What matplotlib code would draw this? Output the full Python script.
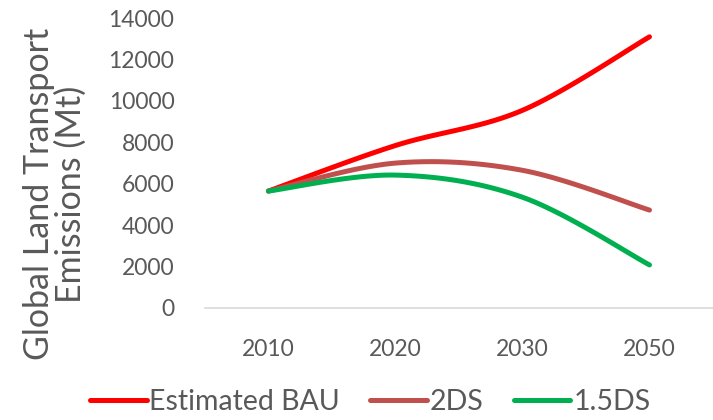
import numpy as np
import matplotlib.pyplot as plt

years = ['2010', '2020', '2030', '2050']
bau = [5650, 7850, 9550, 13100]
ds2 = [5650, 7000, 6650, 4730]
ds15 = [5650, 6420, 5350, 2080]

plt.rcParams['font.family'] = ['Lato', 'DejaVu Sans']


# smooth line like excel (bezier, catmull-rom control points)
def smooth(xs, ys, n=40):
    px = np.array(xs, dtype=float)
    py = np.array(ys, dtype=float) / 14000 * 2.3  # scale y roughly to screen ratio
    ox, oy = [], []
    for i in range(len(px) - 1):
        a = max(i - 1, 0)
        b = min(i + 2, len(px) - 1)
        p0 = np.array([px[i], py[i]])
        p3 = np.array([px[i + 1], py[i + 1]])
        p1 = p0 + (np.array([px[i + 1], py[i + 1]]) - np.array([px[a], py[a]])) / 6
        p2 = p3 - (np.array([px[b], py[b]]) - np.array([px[i], py[i]])) / 6
        t = np.linspace(0, 1, n)[:, None]
        pts = (1 - t)**3 * p0 + 3 * (1 - t)**2 * t * p1 + 3 * (1 - t) * t**2 * p2 + t**3 * p3
        ox.extend(pts[:, 0])
        oy.extend(pts[:, 1])
    return np.array(ox), np.array(oy) * 14000 / 2.3


fig = plt.figure(figsize=(7.13, 4.2), dpi=100)
ax = fig.add_axes([0.2875, 0.2667, 0.7125, 0.69])

x = np.arange(len(years))
for vals, col, lab in [(bau, '#FF0000', 'Estimated BAU'),
                       (ds2, '#C0504D', '2DS'),
                       (ds15, '#00B050', '1.5DS')]:
    sx, sy = smooth(x, vals)
    ax.plot(sx, sy, color=col, linewidth=3.6, solid_capstyle='round', label=lab)

ax.set_xlim(-0.5, 3.5)
ax.set_ylim(0, 14000)
ax.set_yticks(range(0, 14001, 2000))
ax.set_xticks(x)
ax.set_xticklabels(years)

for s in ['top', 'right', 'left']:
    ax.spines[s].set_visible(False)
ax.spines['bottom'].set_color('#D9D9D9')
ax.spines['bottom'].set_linewidth(1.2)
ax.tick_params(axis='both', length=0, labelsize=16.5, colors='#595959')
ax.tick_params(axis='y', pad=22)
ax.tick_params(axis='x', pad=22)

fig.text(0.077, 0.538, 'Global Land Transport\nEmissions (Mt)', rotation=90,
         ha='center', va='center', fontsize=24.5, color='#595959', linespacing=1.0)

leg = fig.legend(loc='center', bbox_to_anchor=(0.519, 0.042), ncol=3, frameon=False,
                 fontsize=20.5, handlelength=2.0, handletextpad=0.1, columnspacing=1.05)
for t in leg.get_texts():
    t.set_color('#595959')

fig.savefig('out.png', dpi=100)
